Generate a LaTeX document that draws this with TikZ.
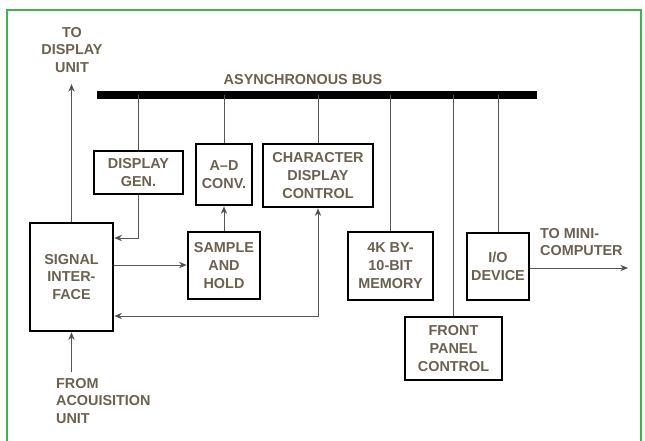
\documentclass[tikz,border=0pt]{standalone}
\usepackage{fontspec}
\setmainfont{Liberation Sans}
\usetikzlibrary{arrows.meta,calc}
\definecolor{frame}{HTML}{3DB54A}
\definecolor{lbl}{HTML}{6B6150}
\definecolor{wire}{HTML}{5A5550}
\tikzset{
  lab/.style={font=\bfseries\fontsize{12.3}{15.3}\selectfont,text=lbl,align=center},
  blk/.style={draw=black,line width=2.2pt,fill=white,font=\bfseries\fontsize{12.3}{15.3}\selectfont,text=lbl,align=center,inner sep=0pt},
  wr/.style={draw=wire,line width=0.8pt},
  arr/.style={-{Stealth[length=2.3mm,width=1.9mm,fill=black!85]},draw=wire,line width=0.8pt},
  biarr/.style={{Stealth[length=2.3mm,width=1.9mm,fill=black!85]}-{Stealth[length=2.3mm,width=1.9mm,fill=black!85]},draw=wire,line width=0.8pt}
}
\begin{document}
\begin{tikzpicture}[x=0.03cm,y=-0.03cm]
\path[use as bounding box,fill=white] (0,0) rectangle (645,440);
\draw[frame,line width=1.8pt] (7,460) -- (7,10) -- (641,10) -- (641,460);
% bus
\coordinate (busL) at (97,95);
\coordinate (busR) at (537,95);
\draw[line width=6pt] (busL) -- (busR);
\node[lab] (buslab) at (303,80) {ASYNCHRONOUS BUS};
% blocks
\node[blk,minimum width=2.49cm,minimum height=3.24cm] (sig) at (71.5,277) {SIGNAL\\INTER-\\FACE};
\node[blk,minimum width=2.67cm,minimum height=1.29cm] (dgen) at (138.5,172.5) {DISPLAY\\GEN.};
\node[blk,minimum width=1.68cm,minimum height=1.83cm] (adc) at (224,174.5) {A--D\\CONV.};
\node[blk,minimum width=3.3cm,minimum height=1.89cm] (cdc) at (318,175.5) {CHARACTER\\DISPLAY\\CONTROL};
\node[blk,minimum width=2.16cm,minimum height=2.01cm] (samp) at (224,265.5) {SAMPLE\\AND\\HOLD};
\node[blk,minimum width=2.55cm,minimum height=2.04cm] (mem) at (390.5,266) {4K BY-\\10-BIT\\MEMORY};
\node[blk,minimum width=1.86cm,minimum height=2.01cm] (io) at (498,266.5) {I/O\\DEVICE};
\node[blk,minimum width=2.91cm,minimum height=1.89cm] (fpc) at (453.5,348.5) {FRONT\\PANEL\\CONTROL};
% bus taps
\foreach \b in {dgen,adc,cdc,mem,fpc,io}
  \draw[wr] (\b.north) -- (\b.north |- busL);
% outside ends
\coordinate (todisp) at (71.5,84);
\coordinate (fromacq) at (71.5,372);
\coordinate (tomini) at (628,268);
\node[lab] (todisplab) at (72,50) {TO\\DISPLAY\\UNIT};
\node[lab,align=left,anchor=west] (fromacqlab) at (52,401) {FROM\\ACOUISITION\\UNIT};
\node[lab,align=left,anchor=west] (tominilab) at (536,242) {TO MINI-\\COMPUTER};
% connectors
\draw[arr] (sig.north) -- (todisp);
\draw[arr] (fromacq) -- (sig.south);
\draw[arr] (dgen.south) |- (sig.east |- 0,238);
\draw[arr] (sig.east |- 0,265) -- (samp.west |- 0,265);
\draw[arr] (samp.north) -- (adc.south);
\draw[biarr] (sig.east |- 0,316) -| (cdc.south);
\draw[arr] (io.east |- 0,268) -- (tomini);
\end{tikzpicture}
\end{document}
